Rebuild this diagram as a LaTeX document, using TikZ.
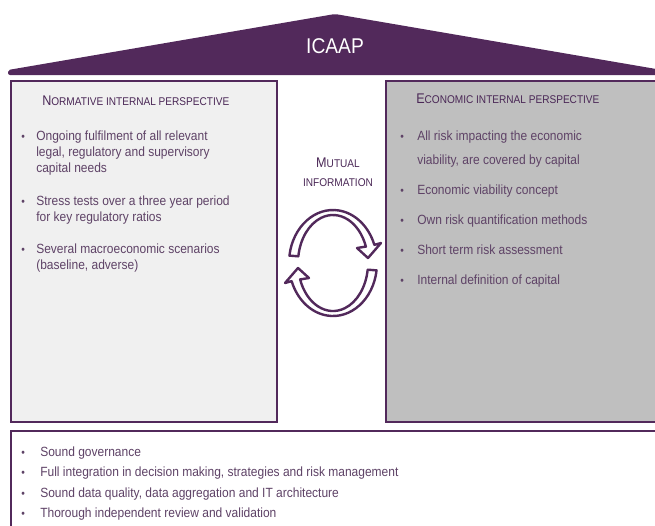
\documentclass[tikz,border=0pt]{standalone}
\usepackage{fontspec}
\setmainfont{Liberation Sans}[FakeStretch=0.9]
\usetikzlibrary{calc}
\definecolor{roof}{HTML}{52295B}
\definecolor{ttl}{HTML}{4A2756}
\definecolor{txt}{HTML}{5E4266}
\definecolor{lbox}{HTML}{F0F0F0}
\definecolor{rbox}{HTML}{BFBFBF}
\tikzset{
  panel/.style={draw=roof, line width=2pt},
  body/.style={anchor=base west, inner sep=0pt, text=txt, font=\fontsize{10}{12}\selectfont},
  bul/.style={anchor=base west, inner sep=0pt, text=txt, font=\fontsize{8.5}{10}\selectfont},
  ttlsty/.style={anchor=base west, inner sep=0pt, text=ttl, font=\fontsize{10.5}{12}\selectfont},
  circarrow/.style={draw=roof, fill=white, line width=1.8pt, line join=round}
}
\newcommand{\sct}[2]{#1{\fontsize{8.4}{10}\selectfont #2}}
\begin{document}
\begin{tikzpicture}[x=0.75pt,y=-0.75pt]
\useasboundingbox (0,0) rectangle (655,525);
% roof
\fill[roof, rounded corners=1.5pt] (8,75) -- (8,70) -- (335,14) -- (662,70) -- (662,75) -- cycle;
\node[text=white, inner sep=0pt, anchor=base, font=\fontsize{16}{18}\selectfont] (icaap) at (335,53) {ICAAP};
% panels
\draw[panel, fill=lbox] (11,81) rectangle (277,422);
\draw[panel, fill=rbox] (386,81) rectangle (665,422);
\draw[panel, fill=white] (11,431) rectangle (665,535);
% titles
\node[ttlsty] (lt) at (42,105) {\sct{N}{ORMATIVE INTERNAL PERSPECTIVE}};
\node[ttlsty] (rt) at (416,103) {\sct{E}{CONOMIC INTERNAL PERSPECTIVE}};
% left bullets
\foreach \y in {140,205,253} \node[bul] at (21,\y) {•};
\node[body] (l1) at (36,140) {Ongoing fulfilment of all relevant};
\node[body] (l2) at (36,156) {legal, regulatory and supervisory};
\node[body] (l3) at (36,172) {capital needs};
\node[body] (l4) at (36,205) {Stress tests over a three year period};
\node[body] (l5) at (36,221) {for key regulatory ratios};
\node[body] (l6) at (36,253) {Several macroeconomic scenarios};
\node[body] (l7) at (36,269) {(baseline, adverse)};
% right bullets
\foreach \y in {140,194,224,254,284} \node[bul] at (400,\y) {•};
\node[body] (r1) at (417,140) {All risk impacting the economic};
\node[body] (r2) at (417,164) {viability, are covered by capital};
\node[body] (r3) at (417,194) {Economic viability concept};
\node[body] (r4) at (417,224) {Own risk quantification methods};
\node[body] (r5) at (417,254) {Short term risk assessment};
\node[body] (r6) at (417,284) {Internal definition of capital};
% mutual information
\node[ttlsty, anchor=base] (m1) at (338,167) {\sct{M}{UTUAL}};
\node[ttlsty, anchor=base] (m2) at (338,186) {\sct{}{INFORMATION}};
% circular arrows
\coordinate (C) at (333,263);
\draw[circarrow] ($(C)+(188:44 and 53)$) arc[start angle=188, end angle=340, x radius=44, y radius=53]
   -- (381,243) -- (368,258) -- (357,248) -- ($(C)+(340:35 and 48)$)
   arc[start angle=340, end angle=188, x radius=35, y radius=48] -- cycle;
\begin{scope}[rotate around={180:(C)}]
\draw[circarrow] ($(C)+(188:44 and 53)$) arc[start angle=188, end angle=340, x radius=44, y radius=53]
   -- (381,243) -- (368,258) -- (357,248) -- ($(C)+(340:35 and 48)$)
   arc[start angle=340, end angle=188, x radius=35, y radius=48] -- cycle;
\end{scope}
% bottom bullets
\foreach \y in {456,476,497,517} \node[bul] at (21,\y) {•};
\node[body] (b1) at (40,456) {Sound governance};
\node[body] (b2) at (40,476) {Full integration in decision making, strategies and risk management};
\node[body] (b3) at (40,497) {Sound data quality, data aggregation and IT architecture};
\node[body] (b4) at (40,517) {Thorough independent review and validation};
\end{tikzpicture}
\end{document}
